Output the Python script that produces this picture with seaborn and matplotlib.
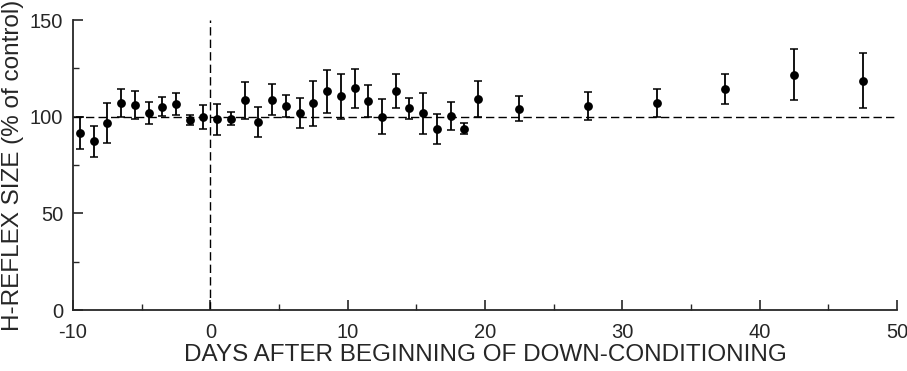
import numpy as np
import pandas as pd
import matplotlib
matplotlib.use('Agg')
import matplotlib.pyplot as plt
import seaborn as sns
from matplotlib.ticker import MultipleLocator

# values
days = [-9.5, -8.5, -7.5, -6.5, -5.5, -4.5, -3.5, -2.5, -1.5, -0.5,
        0.5, 1.5, 2.5, 3.5, 4.5, 5.5, 6.5, 7.5, 8.5, 9.5,
        10.5, 11.5, 12.5, 13.5, 14.5, 15.5, 16.5, 17.5, 18.5, 19.5,
        22.5, 27.5, 32.5, 37.5, 42.5, 47.5]
hreflex = [91.4, 87.2, 96.9, 106.9, 106.2, 101.7, 105.2, 106.4, 98.3, 100.0,
           98.6, 99.0, 108.6, 97.3, 108.8, 105.5, 102.1, 106.9, 113.1, 110.5,
           114.8, 108.3, 100.0, 113.4, 104.3, 101.7, 93.8, 100.3, 93.8, 109.3,
           104.1, 105.5, 106.9, 114.3, 121.7, 118.6]
sem = [8.2, 8.1, 10.3, 7.2, 7.2, 5.7, 5.0, 5.6, 2.6, 6.3,
       8.2, 3.2, 9.6, 7.6, 7.9, 5.5, 7.7, 11.5, 11.3, 11.8,
       10.1, 8.3, 9.0, 8.8, 5.5, 10.7, 7.7, 7.2, 2.9, 9.3,
       6.5, 7.2, 7.3, 7.7, 13.3, 14.3]

df = pd.DataFrame({'day': days, 'size': hreflex, 'sem': sem})

sns.set_style('ticks')
plt.rcParams['font.family'] = ['Liberation Sans', 'DejaVu Sans']
plt.rcParams['axes.unicode_minus'] = False

fig = plt.figure(figsize=(9.07, 3.71), dpi=100)
ax = fig.add_axes([0.0805, 0.1644, 0.9085, 0.7816])

# reference lines
ax.axhline(100, color='black', lw=1, ls=(0, (6, 3)), zorder=1)
ax.axvline(0, color='black', lw=1, ls=(0, (6, 3)), zorder=1)

ax.errorbar(df['day'], df['size'], yerr=df['sem'], fmt='none',
            ecolor='black', elinewidth=1.3, capsize=3, capthick=1.1, zorder=2)
sns.scatterplot(data=df, x='day', y='size', color='black', s=40,
                edgecolor='black', linewidth=0, ax=ax, zorder=3)

ax.set_xlim(-10, 50)
ax.set_ylim(0, 150)
ax.xaxis.set_major_locator(MultipleLocator(10))
ax.xaxis.set_minor_locator(MultipleLocator(5))
ax.yaxis.set_major_locator(MultipleLocator(50))
ax.yaxis.set_minor_locator(MultipleLocator(25))
ax.tick_params(which='major', direction='in', length=7, width=1.2, labelsize=14.5)
ax.tick_params(axis='x', which='major', pad=9)
ax.tick_params(axis='y', which='major', pad=7)
ax.tick_params(which='minor', direction='in', length=4, width=1)

sns.despine(ax=ax)
ax.spines['left'].set_linewidth(1.3)
ax.spines['bottom'].set_linewidth(1.3)

ax.set_xlabel('DAYS AFTER BEGINNING OF DOWN-CONDITIONING', fontsize=17.5, labelpad=2)
ax.set_ylabel('H-REFLEX SIZE (% of control)', fontsize=17.5, labelpad=4)

fig.savefig('out.png', dpi=100)
